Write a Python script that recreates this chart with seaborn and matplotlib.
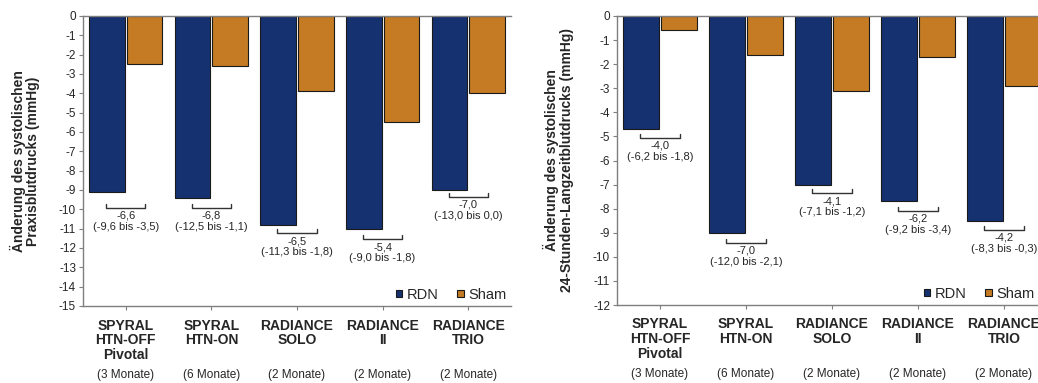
import pandas as pd
import matplotlib
matplotlib.use("Agg")
import matplotlib.pyplot as plt
import matplotlib.transforms as mtransforms
import seaborn as sns

# ==========================================================
# Data
# ==========================================================

STUDIES = ["SPYRAL\nHTN-OFF\nPivotal", "SPYRAL\nHTN-ON", "RADIANCE\nSOLO",
           "RADIANCE\nII", "RADIANCE\nTRIO"]
MONTHS = ["(3 Monate)", "(6 Monate)", "(2 Monate)", "(2 Monate)", "(2 Monate)"]
GROUPS = ["RDN", "Sham"]

# Praxisblutdruck
OFFICE_RDN = [-9.1, -9.4, -10.8, -11.0, -9.0]
OFFICE_SHAM = [-2.5, -2.6, -3.9, -5.5, -4.0]
OFFICE_DIFF = [-6.6, -6.8, -6.5, -5.4, -7.0]
OFFICE_CI_LO = [-9.6, -12.5, -11.3, -9.0, -13.0]
OFFICE_CI_HI = [-3.5, -1.1, -1.8, -1.8, 0.0]

# 24-Stunden-Langzeitblutdruck
AMB_RDN = [-4.7, -9.0, -7.0, -7.7, -8.5]
AMB_SHAM = [-0.6, -1.6, -3.1, -1.7, -2.9]
AMB_DIFF = [-4.0, -7.0, -4.1, -6.2, -4.2]
AMB_CI_LO = [-6.2, -12.0, -7.1, -9.2, -8.3]
AMB_CI_HI = [-1.8, -2.1, -1.2, -3.4, -0.3]

# ==========================================================
# Layout / style
# ==========================================================

COLORS = {"RDN": "#153170", "Sham": "#C47B24"}
OFFICE_BRACKET_Y = [-9.93, -9.93, -11.24, -11.55, -9.37]
AMB_BRACKET_Y = [-5.05, -9.43, -7.36, -8.09, -8.88]

sns.set_style("white")
plt.rcParams["font.family"] = ["Liberation Sans", "DejaVu Sans"]
plt.rcParams["axes.unicode_minus"] = False


def fmt(v):
    return f"{v:.1f}".replace(".", ",")


def DrawPanel(ax, rdn, sham, diff, lo, hi, bracket_y, ymin, ylabel,
              ax_h_px, legend_x):

    df = pd.DataFrame({
        "Studie": STUDIES * 2,
        "Gruppe": ["RDN"] * len(STUDIES) + ["Sham"] * len(STUDIES),
        "Wert": rdn + sham,
    })

    sns.barplot(
        data=df, x="Studie", y="Wert", hue="Gruppe",
        order=STUDIES, hue_order=GROUPS, palette=COLORS,
        saturation=1, width=0.875, gap=0.05, errorbar=None,
        edgecolor="#1a1a1a", linewidth=0.8, ax=ax
    )

    ax.set_xlim(-0.5, 4.5)
    ax.set_ylim(ymin, 0)
    ax.set_yticks(range(ymin, 1))
    ax.set_xticks(range(len(STUDIES)), STUDIES, fontweight="bold",
                  fontsize=10, linespacing=1.05)
    ax.tick_params(axis="y", labelsize=8.5, length=3, width=0.8,
                   color="#7f7f7f", pad=2, left=True)
    ax.tick_params(axis="x", length=3, width=0.8, color="#7f7f7f",
                   pad=6, bottom=True)
    ax.set_xlabel("")
    ax.set_ylabel(ylabel, fontweight="bold", fontsize=10, linespacing=1.05)
    ax.yaxis.set_label_coords(-0.10, 0.5)

    for side in ["left", "bottom", "top"]:
        ax.spines[side].set_color("#7f7f7f")
        ax.spines[side].set_linewidth(1)
    ax.spines["right"].set_visible(False)

    trans = mtransforms.blended_transform_factory(ax.transData, ax.transAxes)
    for i, m in enumerate(MONTHS):
        ax.text(i, -69 / ax_h_px, m, transform=trans, ha="center",
                va="center", fontsize=8.5)

    h = (0 - ymin) * 4 / ax_h_px
    for i in range(len(STUDIES)):
        b = bracket_y[i]
        ax.plot([i - 0.23, i - 0.23, i + 0.23, i + 0.23],
                [b + h, b, b, b + h], color="#333333", lw=1)
        ax.annotate(
            f"{fmt(diff[i])}\n({fmt(lo[i])} bis {fmt(hi[i])})",
            xy=(i, b), xytext=(0, -2), textcoords="offset points",
            ha="center", va="top", fontsize=8, linespacing=1.15
        )

    handles, labels = ax.get_legend_handles_labels()
    ax.legend(handles, labels, loc="lower right",
              bbox_to_anchor=(legend_x, 0.0),
              ncol=2, frameon=False, fontsize=10.5, handlelength=0.45,
              handleheight=0.45, handletextpad=0.3, columnspacing=1.3,
              borderaxespad=0.05, borderpad=0.25)


def main():

    fig = plt.figure(figsize=(10.38, 3.83), dpi=100)

    ax1 = fig.add_axes([83 / 1038, 1 - 306 / 383, 428 / 1038, 290 / 383])
    ax2 = fig.add_axes([617 / 1038, 1 - 305 / 383, 430 / 1038, 289 / 383])

    DrawPanel(ax1, OFFICE_RDN, OFFICE_SHAM, OFFICE_DIFF, OFFICE_CI_LO,
              OFFICE_CI_HI, OFFICE_BRACKET_Y, -15,
              "Änderung des systolischen\nPraxisblutdrucks (mmHg)", 290,
              1.0)

    DrawPanel(ax2, AMB_RDN, AMB_SHAM, AMB_DIFF, AMB_CI_LO, AMB_CI_HI,
              AMB_BRACKET_Y, -12,
              "Änderung des systolischen\n24-Stunden-Langzeitblutdrucks (mmHg)",
              289, 1 - 8 / 430)

    fig.savefig("out.png", dpi=100)
    plt.close(fig)


if __name__ == "__main__":
    main()
